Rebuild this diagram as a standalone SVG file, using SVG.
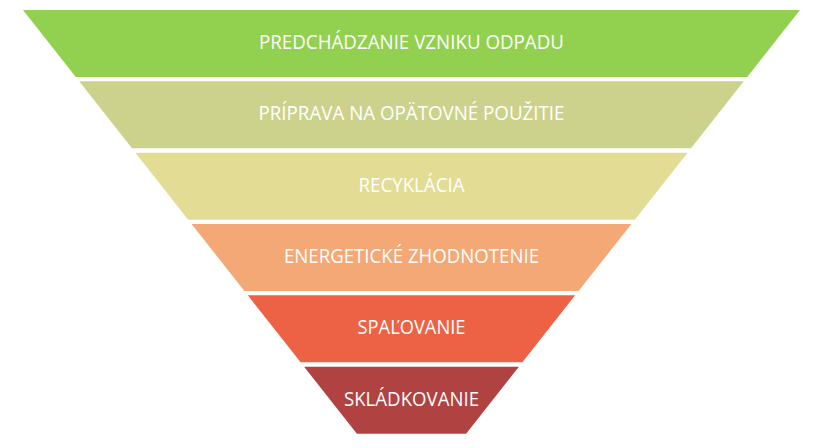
<svg xmlns="http://www.w3.org/2000/svg" width="838" height="448" viewBox="0 0 838 448">
<style>
  .lbl { font-family: "Open Sans", "Liberation Sans", sans-serif; font-size: 19.5px; fill: #ffffff; text-anchor: middle; }
</style>
<rect width="838" height="448" fill="#ffffff"/>
<g id="level1">
  <polygon points="23,10 800,10 747.2,77 75.8,77" fill="#92D050"/>
  <text class="lbl" x="411.5" y="49" textLength="305" lengthAdjust="spacingAndGlyphs">PREDCHÁDZANIE VZNIKU ODPADU</text>
</g>
<g id="level2">
  <polygon points="79.2,81.3 743.8,81.3 691,148.3 132,148.3" fill="#CCD28B"/>
  <text class="lbl" x="411.5" y="120.3" textLength="306" lengthAdjust="spacingAndGlyphs">PRÍPRAVA NA OPÄTOVNÉ POUŽITIE</text>
</g>
<g id="level3">
  <polygon points="135.4,152.7 687.6,152.7 634.8,219.7 188.2,219.7" fill="#E3DC95"/>
  <text class="lbl" x="411.5" y="191.7" textLength="106" lengthAdjust="spacingAndGlyphs">RECYKLÁCIA</text>
</g>
<g id="level4">
  <polygon points="191.6,224 631.4,224 578.6,291 244.4,291" fill="#F4A876"/>
  <text class="lbl" x="411.5" y="263" textLength="255" lengthAdjust="spacingAndGlyphs">ENERGETICKÉ ZHODNOTENIE</text>
</g>
<g id="level5">
  <polygon points="247.8,295.3 575.2,295.3 522.4,362.3 300.6,362.3" fill="#ED6245"/>
  <text class="lbl" x="411.5" y="334.3" textLength="108" lengthAdjust="spacingAndGlyphs">SPAĽOVANIE</text>
</g>
<g id="level6">
  <polygon points="304.1,366.7 518.9,366.7 466.1,433.7 356.9,433.7" fill="#B04241"/>
  <text class="lbl" x="411.5" y="405.7" textLength="135" lengthAdjust="spacingAndGlyphs">SKLÁDKOVANIE</text>
</g>
<g id="connectors"/>
</svg>
